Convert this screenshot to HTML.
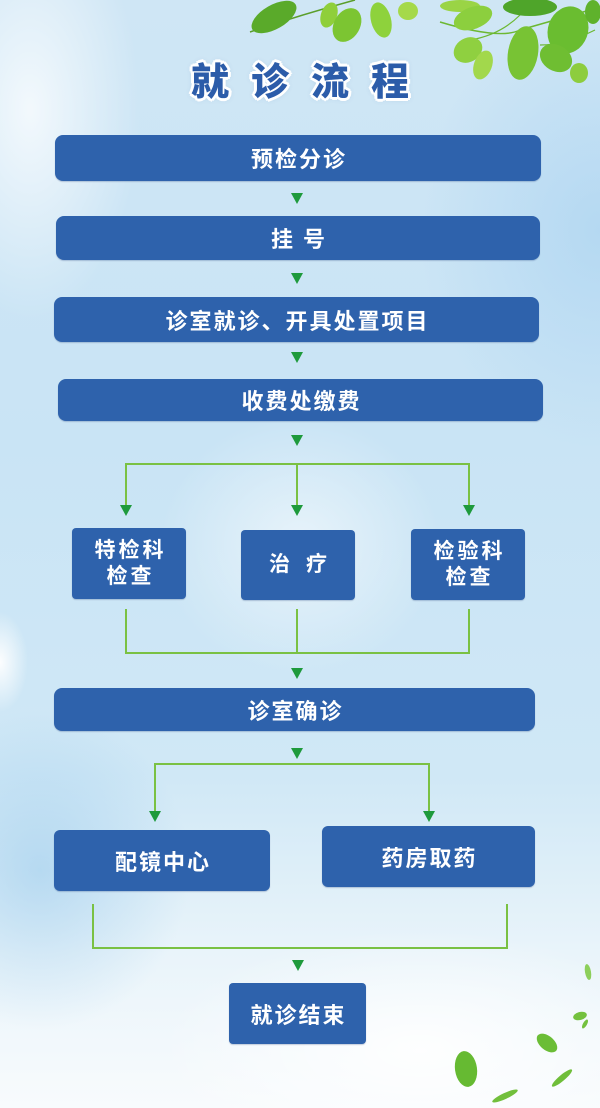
<!DOCTYPE html>
<html><head><meta charset="utf-8"><style>
*{margin:0;padding:0;box-sizing:border-box}
html,body{width:600px;height:1108px;overflow:hidden}
body{position:relative;font-family:"Liberation Sans","Noto Sans CJK SC",sans-serif;
background:
 radial-gradient(ellipse 28px 50px at 0px 662px, rgba(255,255,255,0.95), rgba(255,255,255,0) 100%),
 radial-gradient(ellipse 110px 210px at 30px 110px, rgba(255,255,255,0.75), rgba(255,255,255,0) 100%),
 radial-gradient(ellipse 140px 130px at 300px 545px, rgba(255,255,255,0.55), rgba(255,255,255,0) 100%),
 radial-gradient(ellipse 150px 160px at 40px 870px, rgba(150,200,235,0.55), rgba(150,200,235,0) 100%),
 radial-gradient(ellipse 180px 220px at 600px 230px, rgba(165,208,240,0.6), rgba(165,208,240,0) 100%),
 radial-gradient(ellipse 260px 120px at 420px 1050px, rgba(255,255,255,0.9), rgba(255,255,255,0) 100%),
 linear-gradient(to bottom,#cfe6f5 0%,#c9e4f5 40%,#d0e8f6 70%,#e9f4fa 86%,#f8fbfd 100%);}
.box{position:absolute;background:#2e62ac;color:#fff;display:flex;align-items:center;justify-content:center;
 font-family:"Liberation Sans","Noto Sans CJK SC",sans-serif;font-weight:700;font-size:22px;letter-spacing:2px;border-radius:8px;
 box-shadow:0 1px 1px rgba(30,60,120,0.25);}
.box span{padding-left:2px}
.sm{border-radius:4px;font-size:21px;letter-spacing:3px;line-height:26px;text-align:center}
.title{position:absolute;left:191px;top:60px;font-family:"Noto Sans CJK SC",sans-serif;font-weight:900;font-size:38px;line-height:38px;letter-spacing:22px;color:#2c5ca9;white-space:nowrap;
 text-shadow:2px 0 0 #fff,-2px 0 0 #fff,0 2px 0 #fff,0 -2px 0 #fff,2px 2px 0 #fff,-2px -2px 0 #fff,2px -2px 0 #fff,-2px 2px 0 #fff,3px 0 0 #fff,-3px 0 0 #fff,0 3px 0 #fff,0 -3px 0 #fff,0 0 6px rgba(60,100,150,0.35);}
svg{position:absolute;left:0;top:0}
</style></head><body>

<svg width="600" height="1108" viewBox="0 0 600 1108">
 <g>
  <path d="M250,32 Q300,15 355,0" stroke="#5a9e2a" stroke-width="1.5" fill="none"/>
  <path d="M440,22 Q500,40 520,30 L590,10" stroke="#6cb832" stroke-width="1.5" fill="none"/>
  <path d="M470,40 Q500,35 520,15" stroke="#6cb832" stroke-width="1.2" fill="none"/>
  <path d="M540,45 Q565,45 595,30" stroke="#6cb832" stroke-width="1.2" fill="none"/>
  <ellipse cx="274" cy="17" rx="25" ry="12" transform="rotate(-30 274 17)" fill="#5aaa2a"/>
  <ellipse cx="329" cy="15" rx="8" ry="13" transform="rotate(20 329 15)" fill="#8fcf3a"/>
  <ellipse cx="347" cy="25" rx="13" ry="18" transform="rotate(30 347 25)" fill="#7cc532"/>
  <ellipse cx="381" cy="20" rx="10" ry="18" transform="rotate(-15 381 20)" fill="#8ed23c"/>
  <ellipse cx="408" cy="11" rx="10" ry="9" fill="#a5d94a"/>
  <ellipse cx="460" cy="6" rx="20" ry="6" fill="#9ad445"/>
  <ellipse cx="473" cy="18" rx="20" ry="11" transform="rotate(-20 473 18)" fill="#8ccf3e"/>
  <ellipse cx="468" cy="50" rx="15" ry="12" transform="rotate(-30 468 50)" fill="#8fd040"/>
  <ellipse cx="483" cy="65" rx="9" ry="15" transform="rotate(20 483 65)" fill="#a2d84c"/>
  <ellipse cx="523" cy="53" rx="15" ry="27" transform="rotate(10 523 53)" fill="#78c334"/>
  <ellipse cx="530" cy="7" rx="27" ry="9" fill="#4fa52a"/>
  <ellipse cx="568" cy="30" rx="20" ry="24" transform="rotate(20 568 30)" fill="#6abd30"/>
  <ellipse cx="556" cy="58" rx="17" ry="13" transform="rotate(30 556 58)" fill="#6fbe32"/>
  <ellipse cx="579" cy="73" rx="9" ry="10" fill="#8dcd3e"/>
  <ellipse cx="593" cy="12" rx="8" ry="12" fill="#5fb22c"/>
 </g>
 <g>
  <ellipse cx="588" cy="972" rx="3" ry="8" transform="rotate(-10 588 972)" fill="#8ccf5a"/>
  <ellipse cx="580" cy="1016" rx="7" ry="4" transform="rotate(-15 580 1016)" fill="#74c13e"/>
  <ellipse cx="585" cy="1024" rx="2" ry="5" transform="rotate(30 585 1024)" fill="#74c13e"/>
  <ellipse cx="547" cy="1043" rx="12" ry="7" transform="rotate(40 547 1043)" fill="#6bbd36"/>
  <ellipse cx="466" cy="1069" rx="11" ry="18" transform="rotate(-8 466 1069)" fill="#66ba32"/>
  <ellipse cx="562" cy="1078" rx="3" ry="13" transform="rotate(50 562 1078)" fill="#6fbe3a"/>
  <ellipse cx="505" cy="1096" rx="14" ry="3" transform="rotate(-25 505 1096)" fill="#72bf3c"/>
 </g>
 <g stroke="#7ac143" stroke-width="2" fill="none">
  <path d="M126,505 V464 H469 V505 M297,464 V505"/>
  <path d="M126,609 V653 H469 V609 M297,609 V653"/>
  <path d="M155,811 V764 H429 V811"/>
  <path d="M93,904 V948 H507 V904"/>
 </g>
 <g fill="#1e9a3c">
  <path d="M291,193 h12 l-6,11z"/>
  <path d="M291,273 h12 l-6,11z"/>
  <path d="M291,352 h12 l-6,11z"/>
  <path d="M291,435 h12 l-6,11z"/>
  <path d="M120,505 h12 l-6,11z"/>
  <path d="M291,505 h12 l-6,11z"/>
  <path d="M463,505 h12 l-6,11z"/>
  <path d="M291,668 h12 l-6,11z"/>
  <path d="M291,748 h12 l-6,11z"/>
  <path d="M149,811 h12 l-6,11z"/>
  <path d="M423,811 h12 l-6,11z"/>
  <path d="M292,960 h12 l-6,11z"/>
 </g>
</svg>

<div class="title">就诊流程</div>

<div class="box" style="left:55px;top:135px;width:486px;height:46px"><span>预检分诊</span></div>
<div class="box" style="left:56px;top:216px;width:484px;height:44px;letter-spacing:10px"><span style="padding-left:10px">挂号</span></div>
<div class="box" style="left:54px;top:297px;width:485px;height:45px"><span>诊室就诊、开具处置项目</span></div>
<div class="box" style="left:58px;top:379px;width:485px;height:42px"><span>收费处缴费</span></div>

<div class="box sm" style="left:72px;top:528px;width:114px;height:71px"><span style="padding-left:3px">特检科<br>检查</span></div>
<div class="box sm" style="left:241px;top:530px;width:114px;height:70px;letter-spacing:16px"><span style="padding-left:16px">治疗</span></div>
<div class="box sm" style="left:411px;top:529px;width:114px;height:71px"><span style="padding-left:3px">检验科<br>检查</span></div>

<div class="box" style="left:54px;top:688px;width:481px;height:43px"><span>诊室确诊</span></div>
<div class="box" style="left:54px;top:830px;width:216px;height:61px;border-radius:6px"><span>配镜中心</span></div>
<div class="box" style="left:322px;top:826px;width:213px;height:61px;border-radius:6px"><span>药房取药</span></div>
<div class="box" style="left:229px;top:983px;width:137px;height:61px;border-radius:4px"><span>就诊结束</span></div>

</body></html>
